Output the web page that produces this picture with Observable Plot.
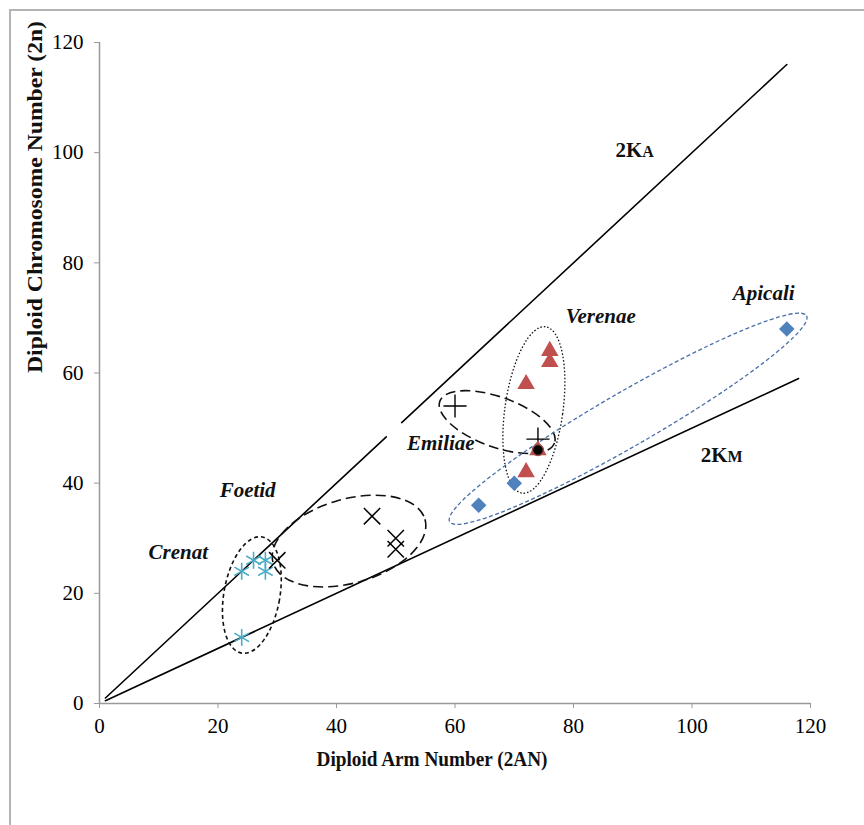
<!DOCTYPE html>
<html>
<head>
<meta charset="utf-8">
<script src="https://cdn.jsdelivr.net/npm/d3@7"></script>
<script src="https://cdn.jsdelivr.net/npm/@observablehq/plot@0.6"></script>
<style>
  html, body { margin: 0; padding: 0; background: #fff; }
  #wrap { position: relative; width: 864px; height: 825px; overflow: hidden; }
  #border { position: absolute; left: 9px; top: 9px; width: 870px; height: 830px;
            border-top: 2px solid #b4b4b4; border-left: 2px solid #b4b4b4; pointer-events: none; z-index: 2; }
  #chart { position: absolute; left: 0; top: 0; }
</style>
</head>
<body>
<div id="wrap"><div id="border"></div><div id="chart"></div></div>
<script>
// ---- data ----
const crenatX = [24, 26, 28, 28, 24];
const crenatY = [24, 26, 26, 24, 12];
const foetidX = [30, 46, 50, 50];
const foetidY = [26, 34, 30, 28];
const emiliaeX = [60, 74];
const emiliaeY = [54, 48];
const verenaeX = [76, 76, 72, 72, 74];
const verenaeY = [64, 62, 58, 42, 46];
const apicaliX = [116, 70, 64];
const apicaliY = [68, 40, 36];
const blackDotX = [74];
const blackDotY = [46];

// reference lines: 2KA (2n = 2AN) drawn in two pieces, 2KM (2n = 2AN/2)
const kaSegX = [[1, 48.4], [51, 116]];
const kaSegY = [[1, 48.4], [51, 116]];
const kmX = [1, 118];
const kmY = [0.5, 59];

// group labels
const labelNames = ["Crenat", "Foetid", "Emiliae", "Verenae", "Apicali"];
const labelX = [13.3, 25, 57.6, 84.6, 112.1];
const labelY = [27.4, 38.7, 47.2, 70.3, 74.4];

// ellipse centres (data units)
const ellipseGroup = ["Crenat", "Foetid", "Emiliae", "Verenae", "Apicali"];
const ellipseCX = [25.8, 42.2, 67.2, 73.4, 89.3];
const ellipseCY = [19.6, 29.4, 51.0, 53.2, 51.6];

const xTicks = [0, 20, 40, 60, 80, 100, 120];
const yTicks = [0, 20, 40, 60, 80, 100, 120];

// ---- build tables ----
const pts = (xs, ys) => xs.map((x, i) => ({x, y: ys[i]}));
const crenat = pts(crenatX, crenatY);
const foetid = pts(foetidX, foetidY);
const emiliae = pts(emiliaeX, emiliaeY);
const verenae = pts(verenaeX, verenaeY);
const apicali = pts(apicaliX, apicaliY);
const blackDot = pts(blackDotX, blackDotY);
const kaLines = kaSegX.flatMap((xs, s) => xs.map((x, i) => ({x, y: kaSegY[s][i], s})));
const kmLine = pts(kmX, kmY);
const labels = labelNames.map((t, i) => ({t, x: labelX[i], y: labelY[i]}));

// ellipse styling (pixel geometry)
const ellipseStyle = {
  Crenat:  {rx: 28, ry: 59, rot: 10, color: "#111", w: 1.6, dash: "4,3"},
  Foetid:  {rx: 79, ry: 42, rot: -16, color: "#111", w: 1.6, dash: "10,5"},
  Emiliae: {rx: 61, ry: 25, rot: 20, color: "#111", w: 1.6, dash: "10,5"},
  Verenae: {rx: 29, ry: 84, rot: 8, color: "#111", w: 1.3, dash: "1.5,2"},
  Apicali: {rx: 206, ry: 27, rot: -30, color: "#4a6fa8", w: 1.3, dash: "4,2.5"}
};

function ellipseMark(index, scales) {
  const g = d3.create("svg:g");
  ellipseGroup.forEach((name, i) => {
    const s = ellipseStyle[name];
    g.append("ellipse")
      .attr("transform", `translate(${scales.x(ellipseCX[i])},${scales.y(ellipseCY[i])}) rotate(${s.rot})`)
      .attr("rx", s.rx).attr("ry", s.ry)
      .attr("fill", "none").attr("stroke", s.color)
      .attr("stroke-width", s.w).attr("stroke-dasharray", s.dash);
  });
  return g.node();
}

const serif = "'Liberation Serif', 'DejaVu Serif', serif";

const plot = Plot.plot({
  width: 864,
  height: 825,
  marginLeft: 99,
  marginRight: 54,
  marginTop: 42,
  marginBottom: 122,
  style: {background: "transparent", fontFamily: serif, fontSize: "21px", color: "#000"},
  x: {domain: [0, 120], ticks: xTicks},
  y: {domain: [0, 120], ticks: yTicks},
  marks: [
    Plot.ruleY([0], {stroke: "#999", strokeWidth: 1.5}),
    Plot.ruleX([0], {stroke: "#999", strokeWidth: 1.5}),
    Plot.axisX({ticks: xTicks, tickSize: 5, tickPadding: 10, fontSize: 21, stroke: "#999", label: null, tickFormat: d => d}),
    Plot.axisY({ticks: yTicks, tickSize: 5, tickPadding: 11, fontSize: 21, stroke: "#999", label: null, tickFormat: d => d}),
    Plot.line(kaLines, {x: "x", y: "y", z: "s", stroke: "#000", strokeWidth: 1.6}),
    Plot.line(kmLine, {x: "x", y: "y", stroke: "#000", strokeWidth: 1.6}),
    ellipseMark,
    Plot.dot(crenat, {x: "x", y: "y", symbol: "asterisk", r: 8, stroke: "#4bacc6", strokeWidth: 1.6}),
    Plot.dot(foetid, {x: "x", y: "y", symbol: "times", r: 7.5, stroke: "#000", strokeWidth: 1.5}),
    Plot.dot(emiliae, {x: "x", y: "y", symbol: "plus", r: 7.5, stroke: "#000", strokeWidth: 1.4}),
    Plot.dot(verenae, {x: "x", y: "y", symbol: "triangle", r: 6.5, fill: "#c0504d", stroke: "none"}),
    Plot.dot(apicali, {x: "x", y: "y", symbol: "square", rotate: 45, r: 6.2, fill: "#4f81bd", stroke: "none"}),
    Plot.dot(blackDot, {x: "x", y: "y", r: 5.5, fill: "#000", stroke: "#a0504a", strokeWidth: 1.5}),
    Plot.text(labels, {x: "x", y: "y", text: "t", fontSize: 21, fontWeight: "bold", fontStyle: "italic", fill: "#111"}),
    Plot.text(["2K"], {x: [91.6], y: [100.4], textAnchor: "end", fontSize: 21, fontWeight: "bold", fill: "#111"}),
    Plot.text(["A"], {x: [91.6], y: [100.4], dy: 1.5, textAnchor: "start", fontSize: 16, fontWeight: "bold", fill: "#111"}),
    Plot.text(["2K"], {x: [106.0], y: [45.0], textAnchor: "end", fontSize: 21, fontWeight: "bold", fill: "#111"}),
    Plot.text(["M"], {x: [106.0], y: [45.0], dy: 1.5, textAnchor: "start", fontSize: 16, fontWeight: "bold", fill: "#111"}),
    Plot.text(["Diploid Arm Number (2AN)"], {frameAnchor: "bottom", dy: 62, dx: -23, fontSize: 21, fontWeight: "bold", fill: "#111"}),
    Plot.text(["Diploid Chromosome Number (2n)"], {frameAnchor: "left", dx: -64, rotate: -90, fontSize: 21, fontWeight: "bold", fill: "#111"})
  ]
});

const sel = d3.select(plot);
sel.selectAll("g[aria-label='x-axis tick label'], g[aria-label='y-axis tick label']")
  .attr("font-size", 21).style("font-size", "21px");
sel.selectAll("text").filter(function () { return this.textContent === "Diploid Chromosome Number (2n)"; })
  .attr("textLength", 352).attr("lengthAdjust", "spacingAndGlyphs");
sel.selectAll("text").filter(function () { return this.textContent === "Diploid Arm Number (2AN)"; })
  .attr("textLength", 231).attr("lengthAdjust", "spacingAndGlyphs");

document.getElementById("chart").appendChild(plot);
</script>
</body>
</html>
